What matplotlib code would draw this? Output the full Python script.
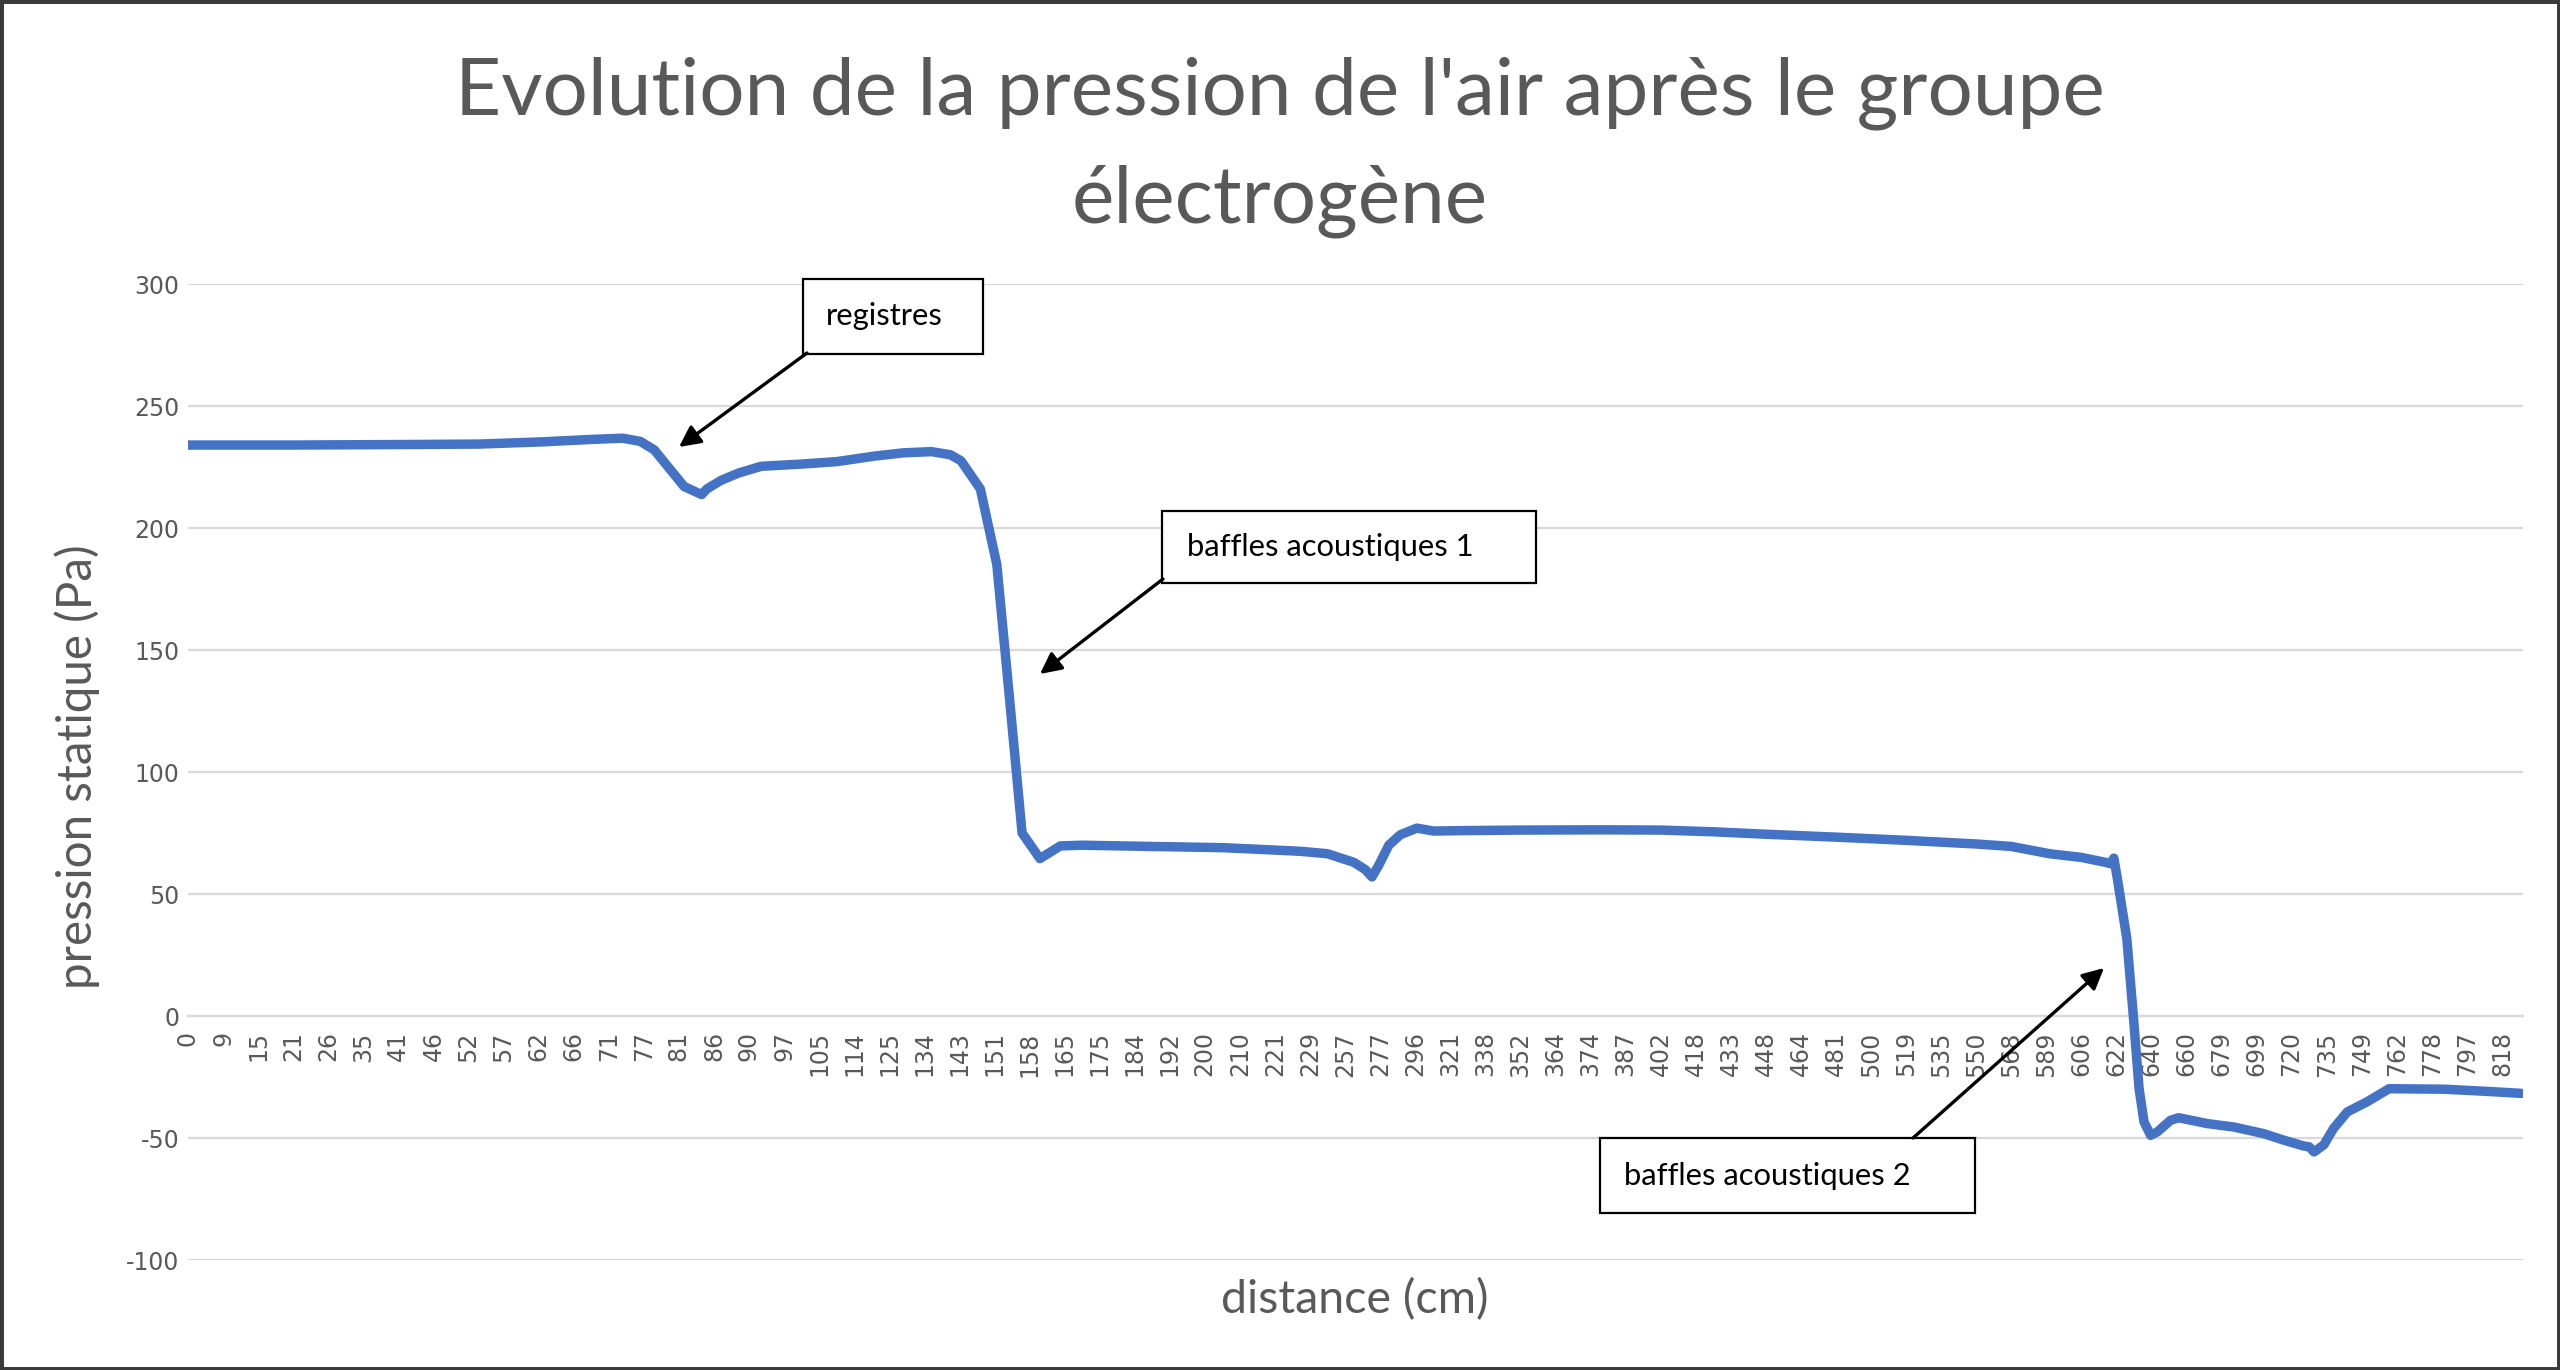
import matplotlib
matplotlib.use("Agg")
import matplotlib.pyplot as plt
from matplotlib.patches import Rectangle, FancyArrowPatch

plt.rcParams["axes.unicode_minus"] = False

# ---------------- data ----------------
distance_labels = ["0", "9", "15", "21", "26", "35", "41", "46", "52", "57", "62", "66",
                   "71", "77", "81", "86", "90", "97", "105", "114", "125", "134", "143",
                   "151", "158", "165", "175", "184", "192", "200", "210", "221", "229",
                   "257", "277", "296", "321", "338", "352", "364", "374", "387", "402",
                   "418", "433", "448", "464", "481", "500", "519", "535", "550", "568",
                   "589", "606", "622", "640", "660", "679", "699", "720", "735", "749",
                   "762", "778", "797", "818"]

# position along the category axis (in label steps) of each measured point
curve_pos = [0, 3, 6, 8.3, 10.1, 11.5, 12.4, 12.9, 13.3, 14.15, 14.65, 14.8, 15.2, 15.7,
             16.35, 17.5, 18.5, 19.6, 20.4, 21.2, 21.75, 22.05, 22.6, 23.07, 23.4, 23.79,
             24.3, 24.88, 25.5, 27.4, 29.5, 31.0, 31.73, 32.5, 33.25, 33.58, 33.77, 33.96,
             34.25, 34.58, 35.05, 35.53, 36.5, 38.0, 40.3, 42.0, 43.5, 45.0, 47.0, 49.0,
             51.0, 52.0, 53.1, 54.0, 54.65, 54.84, 54.93, 55.03, 55.3, 55.5, 55.65, 55.79,
             55.98, 56.17, 56.55, 56.78, 57.6, 58.35, 59.2, 59.78, 60.35, 60.5, 60.64,
             60.92, 61.2, 61.59, 62.16, 62.78, 64.35, 65.58, 66.55]
pressure_pa = [234, 234, 234.2, 234.4, 235.3, 236.3, 236.8, 235.5, 232, 217, 213.7, 216,
               219.5, 222.5, 225.3, 226.2, 227.2, 229.5, 230.8, 231.3, 230, 227.5, 216,
               185, 135, 75, 64.5, 69.7, 70, 69.5, 69, 68, 67.5, 66.5, 63, 60, 57, 61.7,
               70, 74.3, 77, 75.8, 76, 76.2, 76.3, 76.2, 75.5, 74.5, 73.3, 72, 70.5, 69.5,
               66.5, 65, 63.1, 62.4, 64.7, 56.3, 31.7, -2.5, -29.8, -43.4, -48.9, -47.5,
               -42.7, -41.7, -44.1, -45.5, -48.2, -50.9, -53.3, -53.6, -55.7, -52.8, -46,
               -39.3, -35.1, -29.8, -30, -30.9, -31.7]

yticks = [-100, -50, 0, 50, 100, 150, 200, 250, 300]

title_line1 = "Evolution de la pression de l'air après le groupe"
title_line2 = "électrogène"
xlabel = "distance (cm)"
ylabel = "pression statique (Pa)"
notes = ["registres", "baffles acoustiques 1", "baffles acoustiques 2"]

# ---------------- figure ----------------
W, H = 2560, 1370
fig = plt.figure(figsize=(W / 100, H / 100), dpi=100)
fig.patch.set_facecolor("white")

def fx(x):
    return x / W

def fy(y):
    return 1 - y / H

GRAY = "#595959"
GRID = "#d9d9d9"
BLUE = "#4472C4"

ax = fig.add_axes([fx(188), fy(1260), (2523 - 188) / W, (1260 - 284) / H])
ax.set_facecolor("none")
for s in ["top", "right", "left"]:
    ax.spines[s].set_visible(False)
ax.spines["bottom"].set_position(("data", 0))
ax.spines["bottom"].set_color(GRID)
ax.spines["bottom"].set_linewidth(1.6)

ax.plot(curve_pos, pressure_pa, color=BLUE, lw=6.8, solid_joinstyle="round",
        solid_capstyle="round", zorder=3)
ax.set_xlim(0, 66.6)
ax.set_ylim(-100, 300)
ax.set_yticks(yticks)
ax.set_xticks(range(len(distance_labels)))
ax.set_xticklabels(distance_labels)
ax.grid(axis="y", color=GRID, lw=1.6, zorder=0)
ax.tick_params(axis="x", length=0, pad=11, labelsize=17, labelcolor=GRAY,
               labelrotation=90)
ax.tick_params(axis="y", length=0, pad=6, labelsize=17, labelcolor=GRAY)
for lab in ax.get_xticklabels() + ax.get_yticklabels():
    lab.set_family("DejaVu Sans")

# titles / labels
t1 = fig.text(0.5, fy(114), title_line1, ha="center", va="baseline",
              family="Lato", color=GRAY, fontsize=56)
t2 = fig.text(0.5, fy(222), title_line2, ha="center", va="baseline",
              family="Lato", color=GRAY, fontsize=56)
yl = fig.text(fx(77), fy(767), ylabel, ha="center", va="center", rotation=90,
              family="Lato", color=GRAY, fontsize=28)
xl = fig.text(fx(1355), fy(1300), xlabel, ha="center", va="center",
              family="Lato", color=GRAY, fontsize=28)

# annotation boxes: (left, top, right, bottom) in pixels, text left x
boxes = [((803, 279, 983, 354), 826),
         ((1162, 511, 1536, 583), 1187),
         ((1600, 1138, 1975, 1213), 1624)]
note_texts = []
for (l, t, r, b), tx in boxes:
    fig.patches.append(Rectangle((fx(l), fy(b)), (r - l) / W, (b - t) / H,
                                 transform=fig.transFigure, facecolor="white",
                                 edgecolor="black", lw=1.6, zorder=5))
for ((l, t, r, b), tx), note in zip(boxes, notes):
    note_texts.append(fig.text(fx(tx), fy((t + b) / 2), note, ha="left", va="center",
                               family="Lato", color="black", fontsize=17, zorder=6))

arrows = [((807, 353), (679, 447)),
          ((1163, 579), (1040, 674)),
          ((1913, 1138), (2104, 968))]
for (x0, y0), (x1, y1) in arrows:
    fig.patches.append(FancyArrowPatch((fx(x0), fy(y0)), (fx(x1), fy(y1)),
                                       transform=fig.transFigure, arrowstyle="-|>",
                                       mutation_scale=32, lw=2.4, color="black",
                                       shrinkA=0, shrinkB=0, zorder=6))

# figure frame
fig.patches.append(Rectangle((0, 0), 1, 1, transform=fig.transFigure, fill=False,
                             edgecolor="#3a3a3a", lw=5, zorder=10))

# fit text widths to the reference
fig.canvas.draw()
r = fig.canvas.get_renderer()
def fit(t, target, vertical=False):
    bb = t.get_window_extent(r)
    cur = bb.height if vertical else bb.width
    t.set_fontsize(t.get_fontsize() * target / cur)

fit(t1, 1648)
t2.set_fontsize(t1.get_fontsize())
fit(yl, 445, vertical=True)
fit(xl, 268)
fit(note_texts[1], 287)
for nt in note_texts:
    nt.set_fontsize(note_texts[1].get_fontsize())

fig.savefig("out.png", dpi=100, facecolor="white")
